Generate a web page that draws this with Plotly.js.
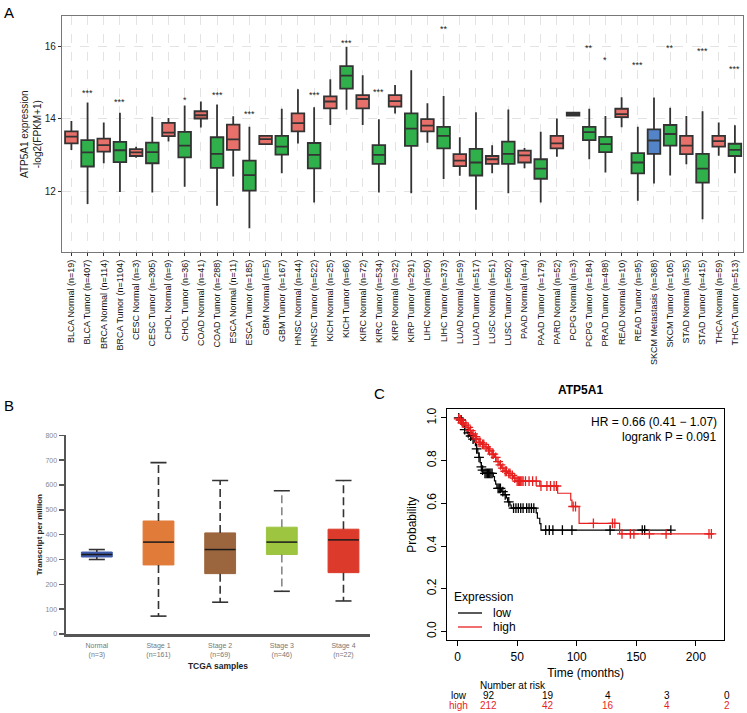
<!DOCTYPE html>
<html><head><meta charset="utf-8">
<script src="https://cdn.plot.ly/plotly-3.0.1.min.js"></script>
<style>html,body{margin:0;padding:0;background:#fff}#chart{width:747px;height:713px}</style>
</head><body><div id="chart"></div>
<script>
// ---------- Panel A data ----------
const labelsA = ['BLCA Normal (n=19)','BLCA Tumor (n=407)','BRCA Normal (n=114)','BRCA Tumor (n=1104)','CESC Normal (n=3)','CESC Tumor (n=305)','CHOL Normal (n=9)','CHOL Tumor (n=36)','COAD Normal (n=41)','COAD Tumor (n=288)','ESCA Normal (n=11)','ESCA Tumor (n=185)','GBM Normal (n=5)','GBM Tumor (n=167)','HNSC Normal (n=44)','HNSC Tumor (n=522)','KICH Normal (n=25)','KICH Tumor (n=66)','KIRC Normal (n=72)','KIRC Tumor (n=534)','KIRP Normal (n=32)','KIRP Tumor (n=291)','LIHC Normal (n=50)','LIHC Tumor (n=373)','LUAD Normal (n=59)','LUAD Tumor (n=517)','LUSC Normal (n=51)','LUSC Tumor (n=502)','PAAD Normal (n=4)','PAAD Tumor (n=179)','PARD Normal (n=52)','PCPG Normal (n=3)','PCPG Tumor (n=184)','PRAD Tumor (n=498)','READ Normal (n=10)','READ Tumor (n=95)','SKCM Metastasis (n=368)','SKCM Tumor (n=105)','STAD Normal (n=35)','STAD Tumor (n=415)','THCA Normal (n=59)','THCA Tumor (n=513)'];
const groupA = ['N','T','N','T','N','T','N','T','N','T','N','T','N','T','N','T','N','T','N','T','N','T','N','T','N','T','N','T','N','T','N','N','T','T','N','T','M','T','N','T','N','T'];
const lowA = [13.14,11.64,12.77,11.97,12.92,11.96,13.37,12.12,13.76,11.59,12.40,10.97,13.30,12.49,13.32,11.68,13.83,14.25,13.83,11.96,14.15,11.94,13.34,12.33,12.42,11.48,12.49,11.94,12.63,11.68,12.95,14.08,12.88,12.51,13.77,11.73,12.21,12.43,12.74,11.22,12.98,12.49];
const q1A  = [13.32,12.68,13.09,12.80,12.97,12.77,13.52,12.93,14.01,12.64,13.14,12.01,13.30,13.01,13.65,12.63,14.29,14.84,14.29,12.75,14.34,13.25,13.65,13.18,12.69,12.43,12.75,12.75,12.79,12.34,13.18,14.09,13.41,13.08,14.05,12.49,13.03,13.26,13.02,12.23,13.23,12.97];
const medA = [13.51,13.07,13.27,13.13,13.07,13.08,13.62,13.26,14.10,13.03,13.43,12.44,13.44,13.23,13.88,13.00,14.48,15.20,14.55,13.00,14.49,13.73,13.81,13.53,12.84,12.79,12.88,13.03,12.99,12.62,13.32,14.13,13.63,13.30,14.13,12.79,13.40,13.58,13.26,12.62,13.38,13.14];
const q3A  = [13.65,13.41,13.45,13.36,13.16,13.34,13.89,13.64,14.21,13.49,13.84,12.84,13.53,13.53,14.15,13.33,14.62,15.46,14.66,13.27,14.66,14.15,13.99,13.78,13.02,13.17,12.97,13.37,13.12,12.88,13.53,14.17,13.78,13.50,14.28,13.05,13.71,13.83,13.53,13.03,13.53,13.31];
const highA= [13.94,14.45,13.90,14.17,13.23,14.06,14.02,14.37,14.48,14.40,14.07,13.78,13.55,14.28,14.82,14.32,15.10,16.00,15.21,13.99,14.94,15.35,14.43,14.63,13.49,14.18,13.27,14.26,13.19,13.64,14.01,14.18,14.28,14.08,14.60,13.78,14.59,14.31,14.08,14.21,13.90,13.82];
const sigA = ['','***','','***','','','','*','','***','','***','','','','***','','***','','***','','','','**','','','','','','','','','**','*','','***','','**','','***','','***'];
const sigYA = [0,14.78,0,14.52,0,0,0,14.57,0,14.73,0,14.18,0,0,0,14.71,0,16.16,0,14.80,0,0,0,16.55,0,0,0,0,0,0,0,0,16.03,15.68,0,15.54,0,16.02,0,15.93,0,15.45];
const yTicksA = [12,14,16];
const yTitleA = 'ATP5A1 expression<br>-log2(FPKM+1)';

// ---------- Panel B data ----------
const catsB = ['Normal<br>(n=3)','Stage 1<br>(n=161)','Stage 2<br>(n=69)','Stage 3<br>(n=46)','Stage 4<br>(n=22)'];
const lowB  = [300, 72, 128, 172, 133];
const q1B   = [310, 278, 243, 320, 247];
const medB  = [320, 370, 340, 370, 379];
const q3B   = [330, 455, 407, 430, 422];
const highB = [340, 690, 618, 577, 618];
const colorsB = ['#3f5bab','#e07b39','#9b653d','#9dc53f','#dc3b2b'];
const whiskColB = ['#333','#333','#333','#888','#333'];

// ---------- Panel C data ----------
const lowT = [0,2,4,5,6,8,10,12,14,15,16,17,18,19,20,21,22,30,31,32,33,37,39,41,42,44,45,66,67,69,70];
const lowS = [1,0.99,0.975,0.96,0.945,0.93,0.915,0.90,0.885,0.87,0.855,0.835,0.815,0.79,0.77,0.755,0.74,0.725,0.705,0.69,0.67,0.655,0.64,0.625,0.607,0.592,0.577,0.555,0.53,0.505,0.474];
const lowEnd = 179;
const lowCens = [1,3,6,9,11,13,16,18,20,21,23,24,25,26,27,28,29,34,35,36,38,40,43,47,49,51,53,55,58,60,62,64,74,77,80,88,96,128,155,157,179];
const highT = [0,1,2,3,4,6,8,10,12,14,16,18,20,23,25,27,29,31,33,35,37,39,42,45,47,49,69,84,95,96,102,136];
const highS = [1,0.995,0.99,0.983,0.976,0.966,0.955,0.94,0.925,0.912,0.9,0.885,0.876,0.864,0.855,0.845,0.83,0.815,0.795,0.78,0.765,0.75,0.74,0.73,0.718,0.704,0.681,0.647,0.615,0.585,0.506,0.457];
const highEnd = 214;
const highCens = [1,2.5,4,5,7,9,11,13,15,16,18,19,21,22,24,26,27,29,30,32,34,36,38,40,41,43,44,46,48,50,51,52,53,54,55,57,60,63,66,70,75,78,81,83,97,99,114,130,132,138,145,148,161,175,211,213];
const riskTimes = [0,50,100,150,200];
const riskLow = [92,19,4,3,0];
const riskHigh = [212,42,16,4,2];
const hrText = 'HR = 0.66 (0.41 − 1.07)';
const pText = 'logrank P = 0.091';
const legendNames = ['low','high'];
const LOWC = '#000000', HIGHC = '#e81f1f';

// ---------- helpers ----------
const W = 747, H = 713;
const px = p => p / W;
const py = p => 1 - p / H;
const FONT = 'Liberation Sans, Arial, sans-serif';
const traces = [];

// Panel A boxes
const grpStyle = {N:'#e8706a', T:'#2fb04b', M:'#5484c8'};
['N','T','M'].forEach(g => {
  const idx = labelsA.map((_, i) => i).filter(i => groupA[i] === g);
  traces.push({
    type:'box', xaxis:'x', yaxis:'y',
    x: idx.map(i => labelsA[i]),
    q1: idx.map(i => q1A[i]), median: idx.map(i => medA[i]), q3: idx.map(i => q3A[i]),
    lowerfence: idx.map(i => lowA[i]), upperfence: idx.map(i => highA[i]),
    fillcolor: grpStyle[g], line:{color:'#333', width:1.8},
    whiskerwidth:0, width:0.78, boxpoints:false, showlegend:false, hoverinfo:'skip'
  });
});

// Panel B boxes
catsB.forEach((c, i) => {
  traces.push({
    type:'box', xaxis:'x2', yaxis:'y2', x:[i],
    q1:[q1B[i]], median:[medB[i]], q3:[q3B[i]], lowerfence:[q1B[i]], upperfence:[q3B[i]],
    fillcolor: colorsB[i], line:{color: colorsB[i], width:1},
    whiskerwidth:0, width:0.5, boxpoints:false, showlegend:false, hoverinfo:'skip'
  });
  traces.push({
    type:'scatter', mode:'lines', xaxis:'x2', yaxis:'y2',
    x:[i, i, null, i, i], y:[q3B[i], highB[i], null, q1B[i], lowB[i]],
    line:{color: whiskColB[i], width:1.6, dash:'8px,4px'}, showlegend:false, hoverinfo:'skip'
  });
  traces.push({
    type:'scatter', mode:'lines', xaxis:'x2', yaxis:'y2',
    x:[i-0.13, i+0.13, null, i-0.13, i+0.13], y:[highB[i], highB[i], null, lowB[i], lowB[i]],
    line:{color:'#333', width:1.6}, showlegend:false, hoverinfo:'skip'
  });
  traces.push({
    type:'scatter', mode:'lines', xaxis:'x2', yaxis:'y2',
    x:[i-0.25, i+0.25], y:[medB[i], medB[i]],
    line:{color:'#1a1a1a', width:1.5}, showlegend:false, hoverinfo:'skip'
  });
});

// Panel C KM curves
function survAt(T, S, t) { let s = S[0]; for (let i = 0; i < T.length; i++) if (T[i] <= t) s = S[i]; return s; }
function km(T, S, end, cens, color, name) {
  traces.push({
    type:'scatter', mode:'lines', xaxis:'x3', yaxis:'y3', name,
    x: T.concat([end]), y: S.concat([S[S.length-1]]),
    line:{color, width:1.2, shape:'hv'}, showlegend:false, hoverinfo:'skip'
  });
  traces.push({
    type:'scatter', mode:'markers', xaxis:'x3', yaxis:'y3',
    x: cens, y: cens.map(t => survAt(T, S, t)),
    marker:{symbol:'cross-thin', size:7, line:{color, width:1.3}, color},
    showlegend:false, hoverinfo:'skip'
  });
}
km(lowT, lowS, lowEnd, lowCens, LOWC, legendNames[0]);
km(highT, highS, highEnd, highCens, HIGHC, legendNames[1]);

// ---------- annotations ----------
const ann = [];
const shapes = [];
labelsA.forEach((l, i) => {
  if (sigA[i]) ann.push({xref:'x', yref:'y', x:l, y:sigYA[i], text:sigA[i], showarrow:false,
    yanchor:'middle', yshift:-2, font:{family:FONT, size:9, color:'#222'}});
});
ann.push({xref:'paper', yref:'paper', x:px(31), y:py(134), xanchor:'center', yanchor:'middle', textangle:-90,
  text:yTitleA, showarrow:false, font:{family:FONT, size:10, color:'#222'}});
ann.push({xref:'paper', yref:'paper', x:px(2), y:py(2), xanchor:'left', yanchor:'top', text:'A', showarrow:false, font:{family:FONT, size:15, color:'#000'}});
ann.push({xref:'paper', yref:'paper', x:px(2), y:py(395), xanchor:'left', yanchor:'top', text:'B', showarrow:false, font:{family:FONT, size:15, color:'#000'}});
ann.push({xref:'paper', yref:'paper', x:px(372), y:py(383), xanchor:'left', yanchor:'top', text:'C', showarrow:false, font:{family:FONT, size:15, color:'#000'}});
ann.push({xref:'paper', yref:'paper', x:px(580), y:py(390), xanchor:'center', yanchor:'middle', text:'<b>ATP5A1</b>', showarrow:false, font:{family:FONT, size:12, color:'#000'}});
ann.push({xref:'paper', yref:'paper', x:px(719), y:py(422), xanchor:'right', yanchor:'middle', text:hrText, showarrow:false, font:{family:FONT, size:12, color:'#000'}});
ann.push({xref:'paper', yref:'paper', x:px(719), y:py(437), xanchor:'right', yanchor:'middle', text:pText, showarrow:false, font:{family:FONT, size:12, color:'#000'}});
// legend (Expression)
ann.push({xref:'paper', yref:'paper', x:px(452), y:py(597), xanchor:'left', yanchor:'middle', text:'Expression', showarrow:false, font:{family:FONT, size:12, color:'#000'}});
[[legendNames[0], LOWC, 613], [legendNames[1], HIGHC, 627]].forEach(([nm, col, yy]) => {
  shapes.push({type:'line', xref:'paper', yref:'paper', x0:px(458), x1:px(482), y0:py(yy), y1:py(yy), line:{color:col, width:1.3}});
  ann.push({xref:'paper', yref:'paper', x:px(491), y:py(yy), xanchor:'left', yanchor:'middle', text:nm, showarrow:false, font:{family:FONT, size:12, color:'#000'}});
});
// number at risk
ann.push({xref:'paper', yref:'paper', x:px(478), y:py(685), xanchor:'left', yanchor:'middle', text:'Number at risk', showarrow:false, font:{family:FONT, size:10, color:'#000'}});
ann.push({xref:'paper', yref:'paper', x:px(469), y:py(695), xanchor:'right', yanchor:'middle', text:legendNames[0], showarrow:false, font:{family:FONT, size:10, color:LOWC}});
ann.push({xref:'paper', yref:'paper', x:px(470), y:py(705), xanchor:'right', yanchor:'middle', text:legendNames[1], showarrow:false, font:{family:FONT, size:10, color:HIGHC}});
riskTimes.forEach((t, i) => {
  ann.push({xref:'x3', yref:'paper', x:t, xshift:31, y:py(695), xanchor:'center', yanchor:'middle', text:String(riskLow[i]), showarrow:false, font:{family:FONT, size:10, color:LOWC}});
  ann.push({xref:'x3', yref:'paper', x:t, xshift:31, y:py(705), xanchor:'center', yanchor:'middle', text:String(riskHigh[i]), showarrow:false, font:{family:FONT, size:10, color:HIGHC}});
});

const layout = {
  width:W, height:H, margin:{l:0, r:0, t:0, b:0}, paper_bgcolor:'#fff', plot_bgcolor:'#fff',
  showlegend:false, hovermode:false, boxmode:'overlay',
  font:{family:FONT, color:'#222'},
  // Panel A
  xaxis:{domain:[px(62), px(743)], type:'category', categoryorder:'array', categoryarray:labelsA,
    range:[-0.58, 41.5], tickangle:-90, tickfont:{family:FONT, size:9, color:'#111'},
    showline:true, mirror:true, linecolor:'#777', linewidth:1.2, ticks:'outside', ticklen:3, tickcolor:'#333',
    showgrid:true, gridcolor:'#dcdcdc', griddash:'dash', gridwidth:0.8, anchor:'y', zeroline:false},
  yaxis:{domain:[py(252), py(16)], range:[10.31, 16.85], tickvals:yTicksA, anchor:'x',
    tickfont:{family:FONT, size:10, color:'#222'}, ticks:'outside', ticklen:3, tickcolor:'#333',
    showline:true, mirror:true, linecolor:'#777', linewidth:1.2,
    showgrid:true, gridcolor:'#dcdcdc', griddash:'dash', gridwidth:0.8, zeroline:false},
  // Panel B
  xaxis2:{domain:[px(66), px(370)], range:[-0.5, 4.43], anchor:'y2', tickvals:[0,1,2,3,4], ticktext:catsB,
    tickfont:{family:FONT, size:7, color:'#777'}, ticks:'', ticklabelstandoff:3,
    showline:true, linecolor:'#555', linewidth:2.5, showgrid:false, zeroline:false,
    title:{text:'<b>TCGA samples</b>', standoff:5, font:{family:FONT, size:8.5, color:'#222'}}},
  yaxis2:{domain:[py(634), py(435.3)], range:[0, 800], anchor:'x2', dtick:100,
    tickfont:{family:FONT, size:7, color:'#888'}, ticks:'outside', ticklen:5, tickcolor:'#555', tickwidth:1.5,
    showline:true, linecolor:'#555', linewidth:2.5, showgrid:false, zeroline:false,
    title:{text:'<b>Transcript per million</b>', standoff:2, font:{family:FONT, size:8, color:'#222'}}},
  // Panel C
  xaxis3:{domain:[px(447.3), px(724)], range:[-8.6, 223.6], anchor:'y3', tickvals:[0,50,100,150,200],
    tickfont:{family:FONT, size:12, color:'#000'}, ticks:'outside', ticklen:5, tickcolor:'#000',
    showline:true, mirror:true, linecolor:'#000', linewidth:1.3, showgrid:false, zeroline:false,
    title:{text:'Time (months)', standoff:6, font:{family:FONT, size:12, color:'#000'}}},
  yaxis3:{domain:[py(640), py(409.3)], range:[-0.04, 1.04], anchor:'x3', tickvals:[0,0.2,0.4,0.6,0.8,1.0],
    tickformat:'.1f', tickangle:-90, tickfont:{family:FONT, size:12, color:'#000'}, ticks:'outside', ticklen:5, tickcolor:'#000',
    showline:true, mirror:true, linecolor:'#000', linewidth:1.3, showgrid:false, zeroline:false,
    title:{text:'Probability', standoff:6, font:{family:FONT, size:12, color:'#000'}}},
  annotations: ann,
  shapes: shapes
};

Plotly.newPlot('chart', traces, layout, {staticPlot:true, displayModeBar:false});
</script></body></html>
